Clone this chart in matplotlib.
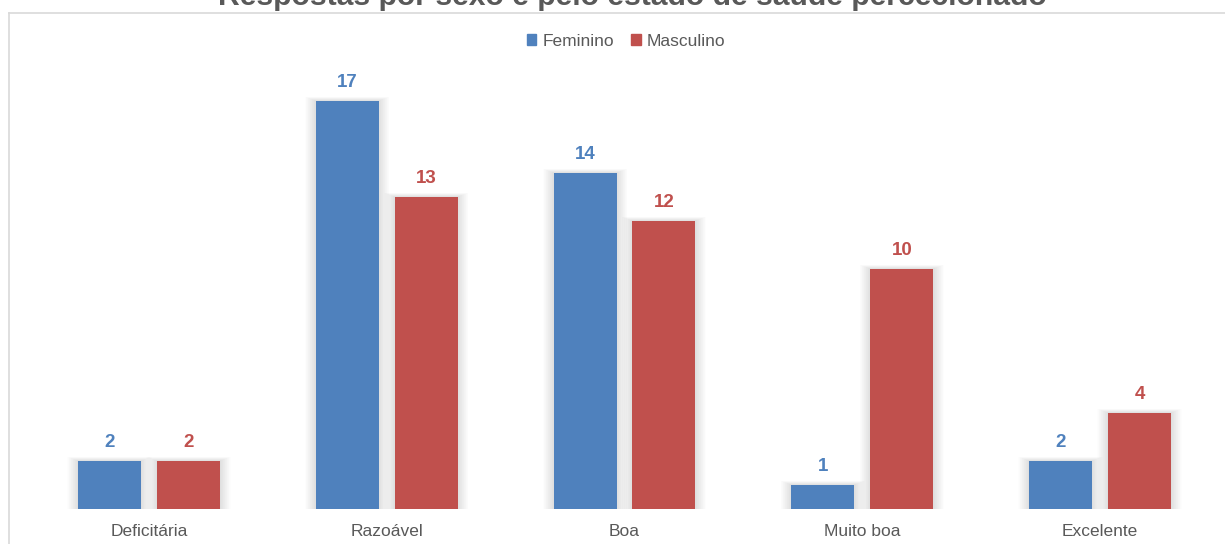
import numpy as np
import matplotlib.pyplot as plt
from matplotlib.lines import Line2D
from matplotlib.patches import Patch

plt.rcParams['font.family'] = ['Liberation Sans', 'DejaVu Sans']

categorias = ['Deficitária', 'Razoável', 'Boa', 'Muito boa', 'Excelente']
feminino = [2, 17, 14, 1, 2]
masculino = [2, 13, 12, 10, 4]

azul = '#4F81BD'
vermelho = '#C0504D'
cinza = '#595959'

fig = plt.figure(figsize=(12.25, 5.44), dpi=100)
ax = fig.add_axes([30 / 1225, 35 / 544, 1189 / 1225, 432 / 544])

x = np.arange(len(categorias))
w = 0.265
off = 0.166

# sombra difusa atrás das barras
for k in range(16):
    e = 0.0028 * (k + 1)
    for xs, vals in ((x - off, feminino), (x + off, masculino)):
        ax.bar(xs, np.array(vals) + e * 4, width=w + 2 * e, color='black',
               alpha=0.009, linewidth=0, zorder=1)

ax.bar(x - off, feminino, width=w, color=azul, zorder=3, label='Feminino')
ax.bar(x + off, masculino, width=w, color=vermelho, zorder=3, label='Masculino')

for xi, v in zip(x, feminino):
    ax.text(xi - off, v + 0.42, str(v), ha='center', va='bottom', color=azul,
            fontsize=13.5, fontweight='bold')
for xi, v in zip(x, masculino):
    ax.text(xi + off, v + 0.42, str(v), ha='center', va='bottom', color=vermelho,
            fontsize=13.5, fontweight='bold')

ax.set_xlim(-0.5, 4.5)
ax.set_ylim(0, 18)
ax.set_xticks(x)
ax.set_xticklabels(categorias, fontsize=12.5, color=cinza)
ax.tick_params(axis='x', length=0, pad=11)
ax.set_yticks([])
for s in ax.spines.values():
    s.set_visible(False)
ax.patch.set_alpha(0)

handles = [Patch(color=azul, label='Feminino'), Patch(color=vermelho, label='Masculino')]
leg = fig.legend(handles=handles, loc='center', bbox_to_anchor=(626 / 1225, 1 - 41 / 544),
                 ncol=2, frameon=False, fontsize=12.5, handlelength=0.55, handleheight=0.55,
                 handletextpad=0.35, columnspacing=1.0)
for t in leg.get_texts():
    t.set_color(cinza)

# borda da área do gráfico
fig.add_artist(Line2D([9 / 1225, 9 / 1225], [0, 1 - 13 / 544], color='#d9d9d9', lw=1.2))
fig.add_artist(Line2D([9 / 1225, 1], [1 - 13 / 544, 1 - 13 / 544], color='#d9d9d9', lw=1.2))

fig.text(632 / 1225, 1 - 5 / 544, 'Respostas por sexo e pelo estado de saúde percecionado',
         ha='center', va='baseline', fontsize=21.7, fontweight='bold', color=cinza)

fig.savefig('out.png', dpi=100)
